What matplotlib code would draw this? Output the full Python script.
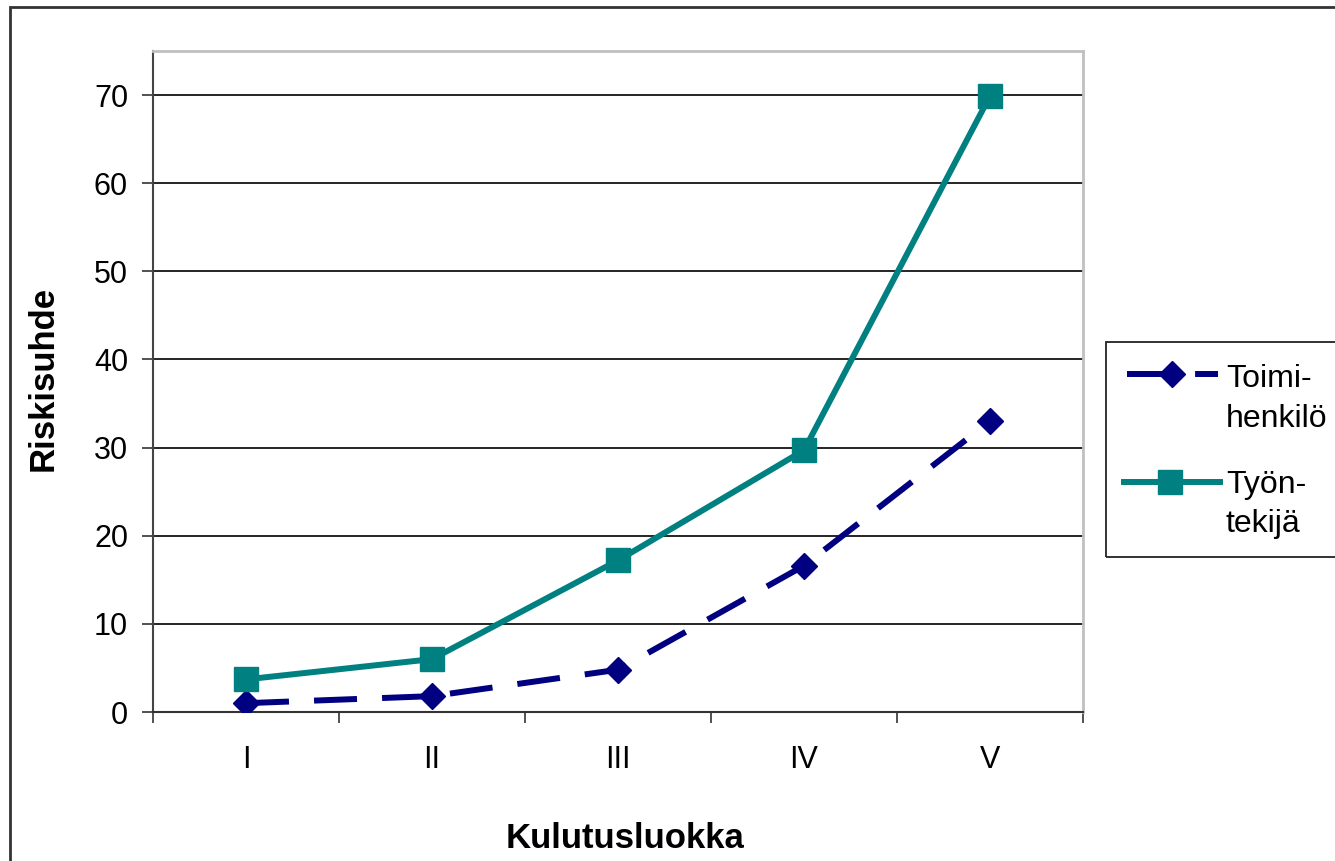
import matplotlib
matplotlib.use("Agg")
import matplotlib.pyplot as plt
from matplotlib.patches import Rectangle
from matplotlib.lines import Line2D
import numpy as np

categories = ["I", "II", "III", "IV", "V"]
toimihenkilo = [1.0, 1.8, 4.8, 16.6, 33.0]
tyontekija = [3.7, 6.0, 17.2, 29.7, 69.9]
yticks = [0, 10, 20, 30, 40, 50, 60, 70]
legend_labels = [["Toimi-", "henkilö"], ["Työn-", "tekijä"]]

plt.rcParams['font.family'] = ['Liberation Sans', 'DejaVu Sans']

W, H = 1335, 861
fig = plt.figure(figsize=(W/100, H/100), dpi=100)
ax = fig.add_axes([153/W, 1-712/H, (1083-153)/W, (712-51)/H])

def fx(px):
    return px / W

def fy(py):
    return 1 - py / H

x = np.arange(len(categories))
navy = "#000080"
teal = "#008080"
LW = 4.3
DASH = [7.2, 4.2]

l1, = ax.plot(x, toimihenkilo, color=navy, lw=LW, marker='D', ms=13, zorder=3)
l1.set_dashes(DASH)
l2, = ax.plot(x, tyontekija, color=teal, lw=LW, marker='s', ms=17.5, zorder=4)

ax.set_xlim(-0.5, len(categories)-0.5)
ax.set_ylim(0, 75)
ax.set_yticks(yticks)
ax.set_yticklabels([str(v) for v in yticks], fontsize=22)
ax.set_xticks(x)
ax.set_xticklabels(categories, fontsize=22)
ax.set_xticks(np.arange(-0.5, len(categories)), minor=True)
ax.tick_params(axis='x', which='major', length=0, pad=24)
ax.tick_params(axis='x', which='minor', length=8, width=1.2, direction='out', color='#333333')
ax.tick_params(axis='y', length=8, width=1.2, direction='out', color='#333333', pad=10)

for v in yticks[1:]:
    ax.axhline(v, color='black', lw=1.2, zorder=1)

ax.spines['left'].set_color('#444444')
ax.spines['left'].set_linewidth(1.5)
ax.spines['bottom'].set_color('#333333')
ax.spines['bottom'].set_linewidth(1.5)
ax.spines['top'].set_color('#c0c0c0')
ax.spines['top'].set_linewidth(2)
ax.spines['right'].set_color('#c0c0c0')
ax.spines['right'].set_linewidth(2)

# axis titles
fig.text(fx(53), fy(378), "Riskisuhde", rotation=90, rotation_mode='anchor',
         ha='center', va='baseline', fontsize=25, fontweight='bold')
fig.text(fx(625), fy(848), "Kulutusluokka", ha='center', va='baseline',
         fontsize=25, fontweight='bold')

# legend (drawn manually, Excel style)
fig.patches.append(Rectangle((fx(1106), fy(557)), fx(1400-1106), (557-342)/H,
                             transform=fig.transFigure, fill=False,
                             edgecolor='#222222', lw=1.3))
hl1 = Line2D([fx(1127), fx(1218)], [fy(374), fy(374)], transform=fig.transFigure,
             color=navy, lw=LW)
hl1.set_dashes(DASH)
hm1 = Line2D([fx(1172)], [fy(374)], transform=fig.transFigure, color=navy,
             marker='D', ms=13, lw=0)
hl2 = Line2D([fx(1124), fx(1220)], [fy(482), fy(482)], transform=fig.transFigure,
             color=teal, lw=LW)
hm2 = Line2D([fx(1170)], [fy(482)], transform=fig.transFigure, color=teal,
             marker='s', ms=17.5, lw=0)
for a in (hl1, hm1, hl2, hm2):
    fig.lines.append(a)
baselines = [[387, 427], [493, 532]]
for labs, bls in zip(legend_labels, baselines):
    for lab, bl in zip(labs, bls):
        fig.text(fx(1226), fy(bl), lab, ha='left', va='baseline', fontsize=23)

# outer chart frame
fig.patches.append(Rectangle((fx(10), -0.1), 2.0, 1-7/H+0.1, transform=fig.transFigure,
                             fill=False, edgecolor='#333333', lw=2))

fig.savefig("out.png", dpi=100)
